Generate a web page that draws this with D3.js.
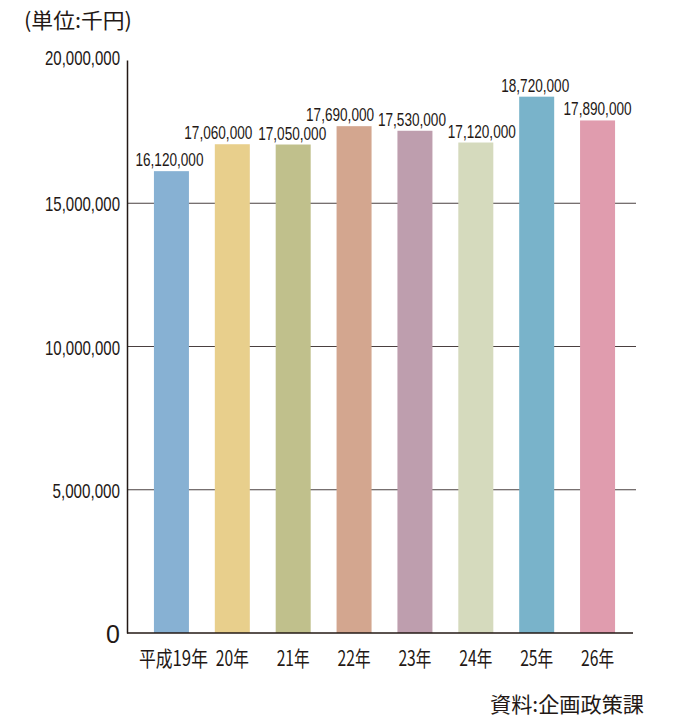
<!DOCTYPE html>
<html>
<head>
<meta charset="utf-8">
<script src="https://cdn.jsdelivr.net/npm/d3@7"></script>
<style>
	html, body { margin: 0; padding: 0; background: #fff; }
	svg { display: block; }
	.num { font-family: "Liberation Sans", Arial, sans-serif; fill: #231815; }
	.jp { font-family: "Noto Sans CJK JP", sans-serif; fill: #231815; }
</style>
</head>
<body>
<div class="chart"></div>
<script>
	'use strict';

	// data
	var categories = ['平成19年', '20年', '21年', '22年', '23年', '24年', '25年', '26年'];
	var values = [16120000, 17060000, 17050000, 17690000, 17530000, 17120000, 18720000, 17890000];
	var colors = ['#87b1d3', '#e8cf8c', '#c0c08c', '#d3a68f', '#be9eae', '#d5dabd', '#79b3ca', '#e09cae'];
	var tickValues = [0, 5000000, 10000000, 15000000, 20000000];

	// layout: horizontal nudges of the value labels so neighbours do not collide
	var labelNudge = [-2, -14, -1, -14, -3, 6, -1.5, 0];

	var W = 690, H = 720;
	var ink = '#231815';

	var svg = d3.select('.chart').append('svg').attr('width', W).attr('height', H);

	var x = d3.scaleBand().domain(categories).range([141, 628])
		.paddingInner(0.425).paddingOuter(0.2125);
	var y = d3.scaleLinear().domain([0, 20000000]).range([633, 60]);

	var fmt = d3.format(',');

	// condensed look: squeeze text to a width per character
	function squeeze(sel, perChar) {
		sel.each(function() {
			var t = d3.select(this);
			var n = t.text().length;
			if (n > 1) {
				t.attr('textLength', n * perChar).attr('lengthAdjust', 'spacingAndGlyphs');
			}
		});
	}

	// same for Japanese labels: wide glyphs and narrow ones
	function squeezeJp(sel, wide, narrow) {
		sel.each(function() {
			var t = d3.select(this);
			var w = 0;
			t.text().split('').forEach(function(c) {
				w += c.charCodeAt(0) > 255 ? wide : narrow;
			});
			t.attr('textLength', w).attr('lengthAdjust', 'spacingAndGlyphs');
		});
	}

	// gridlines (behind bars)
	svg.append('g').selectAll('line')
		.data(tickValues.filter(function(d) { return d > 0 && d < 20000000; }))
		.enter().append('line')
		.attr('x1', 127).attr('x2', 636)
		.attr('y1', function(d) { return y(d); })
		.attr('y2', function(d) { return y(d); })
		.attr('stroke', '#4a4040').attr('stroke-width', 1.2);

	// bars
	svg.append('g').selectAll('rect')
		.data(values)
		.enter().append('rect')
		.attr('x', function(d, i) { return x(categories[i]); })
		.attr('y', function(d) { return y(d); })
		.attr('width', x.bandwidth())
		.attr('height', function(d) { return y(0) - y(d); })
		.attr('fill', function(d, i) { return colors[i]; });

	// value labels
	svg.append('g').selectAll('text')
		.data(values)
		.enter().append('text')
		.attr('class', 'num')
		.attr('x', function(d, i) { return x(categories[i]) + x.bandwidth() / 2 + labelNudge[i]; })
		.attr('y', function(d) { return y(d) - 5; })
		.attr('text-anchor', 'middle')
		.style('font-size', '17.5px')
		.text(function(d) { return fmt(d); })
		.call(squeeze, 6.8);

	// y axis
	var yAxis = svg.append('g')
		.attr('transform', 'translate(127,0)')
		.call(d3.axisLeft(y).tickValues(tickValues).tickSize(0).tickPadding(7)
			.tickFormat(function(d) { return fmt(d); }));
	yAxis.select('.domain').attr('stroke', ink).attr('stroke-width', 1.5);
	yAxis.selectAll('text')
		.attr('class', 'num')
		.attr('fill', ink)
		.attr('dy', function(d) { return d === 20000000 ? '0.2em' : '0.36em'; })
		.style('font-size', function(d) { return d === 0 ? '25px' : '21px'; })
		.call(squeeze, 7.5);

	// baseline
	svg.append('line')
		.attr('x1', 127).attr('x2', 633)
		.attr('y1', y(0)).attr('y2', y(0))
		.attr('stroke', ink).attr('stroke-width', 1.5);

	// x category labels
	var xAxis = svg.append('g')
		.attr('transform', 'translate(0,' + y(0) + ')')
		.call(d3.axisBottom(x).tickSize(0).tickPadding(18));
	xAxis.select('.domain').remove();
	xAxis.selectAll('text')
		.attr('class', 'jp')
		.attr('fill', ink)
		.attr('dx', function(d, i) { return i === 0 ? '2px' : '0'; })
		.style('font-size', '21px')
		.call(squeezeJp, 18, 7.5);

	// unit and source
	svg.append('text').attr('class', 'jp')
		.attr('x', 24).attr('y', 28)
		.style('font-size', '21px')
		.text('(単位:千円)')
		.attr('textLength', 108).attr('lengthAdjust', 'spacingAndGlyphs');

	svg.append('text').attr('class', 'jp')
		.attr('x', 490).attr('y', 712)
		.style('font-size', '21px')
		.text('資料:企画政策課')
		.attr('textLength', 154).attr('lengthAdjust', 'spacingAndGlyphs');
</script>
</body>
</html>
